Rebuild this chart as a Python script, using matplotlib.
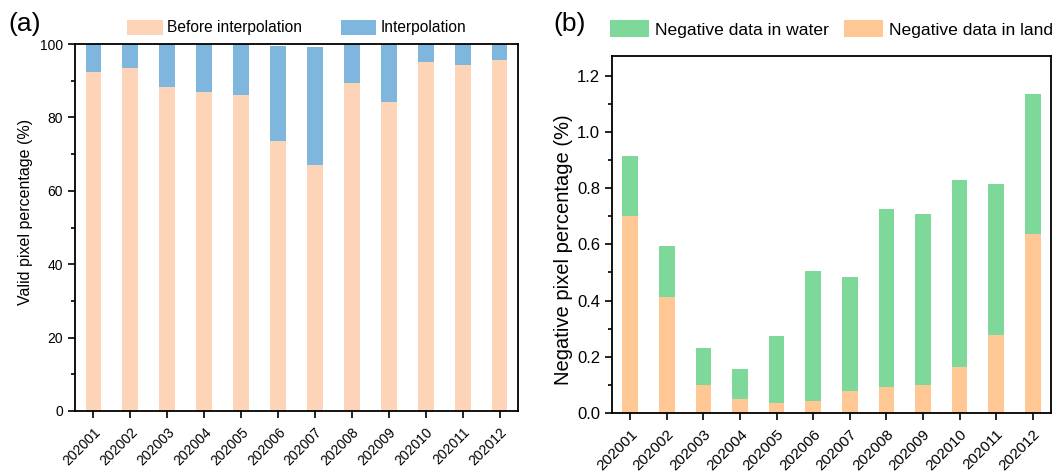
import matplotlib
matplotlib.use("Agg")
import matplotlib.pyplot as plt
from matplotlib.ticker import MultipleLocator

plt.rcParams['font.family'] = ['Liberation Sans', 'DejaVu Sans']

# data
months = ['202001', '202002', '202003', '202004', '202005', '202006',
          '202007', '202008', '202009', '202010', '202011', '202012']
before_interp = [92.5, 93.5, 88.3, 86.8, 86.0, 73.7, 67.1, 89.5, 84.3, 95.0, 94.4, 95.6]
after_total = [100, 100, 100, 100, 100, 99.5, 99.3, 100, 100, 100, 100, 100]
interp = [t - b for t, b in zip(after_total, before_interp)]

neg_land = [0.701, 0.412, 0.101, 0.050, 0.034, 0.041, 0.079, 0.091, 0.101, 0.163, 0.276, 0.638]
neg_total = [0.915, 0.593, 0.230, 0.157, 0.274, 0.506, 0.483, 0.725, 0.709, 0.829, 0.815, 1.134]
neg_water = [t - l for t, l in zip(neg_total, neg_land)]

c_before = '#FDD4B8'
c_interp = '#7EB6DE'
c_water = '#7ED89A'
c_land = '#FFC794'

W, H = 1060, 472
fig = plt.figure(figsize=(W / 100, H / 100), dpi=100)
ax1 = fig.add_axes([75 / W, 1 - 411 / H, 443 / W, 367 / H])
ax2 = fig.add_axes([612 / W, 1 - 413 / H, 439 / W, 357 / H])

x = range(len(months))
w = 0.43

# panel a
ax1.bar(x, before_interp, w, color=c_before, label='Before interpolation')
ax1.bar(x, interp, w, bottom=before_interp, color=c_interp, label='Interpolation')
ax1.set_ylim(0, 100)
ax1.yaxis.set_major_locator(MultipleLocator(20))
ax1.yaxis.set_minor_locator(MultipleLocator(10))
ax1.set_ylabel('Valid pixel percentage (%)', fontsize=11.5)
ax1.yaxis.set_label_coords(-0.095, 0.542)

# panel b
ax2.bar(x, neg_land, w, color=c_land, label='Negative data in land')
ax2.bar(x, neg_water, w, bottom=neg_land, color=c_water, label='Negative data in water')
ax2.set_ylim(0, 1.27)
ax2.yaxis.set_major_locator(MultipleLocator(0.2))
ax2.yaxis.set_minor_locator(MultipleLocator(0.1))
ax2.yaxis.set_major_formatter(lambda v, p: f'{v:.1f}')
ax2.set_ylabel('Negative pixel percentage (%)', fontsize=14.5)
ax2.yaxis.set_label_coords(-0.089, 0.457)

for ax, ysize, xsize in ((ax1, 10, 10), (ax2, 12, 11)):
    ax.set_xlim(-0.5, len(months) - 0.5)
    ax.set_xticks(list(x))
    ax.set_xticklabels(months, rotation=45, ha='right', rotation_mode='anchor')
    ax.tick_params(axis='both', which='major', direction='out', length=5, width=1.2)
    ax.tick_params(axis='y', labelsize=ysize)
    ax.tick_params(axis='x', labelsize=xsize, pad=5)
    ax.tick_params(axis='y', which='minor', direction='out', length=3, width=1.2)
    ax.tick_params(axis='x', which='minor', bottom=False)
    for s in ax.spines.values():
        s.set_linewidth(1.3)

h1, l1 = ax1.get_legend_handles_labels()
fig.legend(h1, l1, loc='center left', bbox_to_anchor=(127 / W, 1 - 27.5 / H), ncol=2,
           frameon=False, fontsize=11.2, handlelength=2.3, handleheight=1.1,
           handletextpad=0.26, columnspacing=2.5, borderaxespad=0, borderpad=0)
h2, l2 = ax2.get_legend_handles_labels()
fig.legend(h2[::-1], l2[::-1], loc='center left', bbox_to_anchor=(610 / W, 1 - 29 / H), ncol=2,
           frameon=False, fontsize=12.6, handlelength=2.23, handleheight=1.14,
           handletextpad=0.34, columnspacing=0.86, borderaxespad=0, borderpad=0)

fig.text(8 / W, 1 - 24 / H, '(a)', fontsize=19, va='center', ha='left')
fig.text(553 / W, 1 - 24 / H, '(b)', fontsize=19, va='center', ha='left')

fig.savefig('out.png', dpi=100)
